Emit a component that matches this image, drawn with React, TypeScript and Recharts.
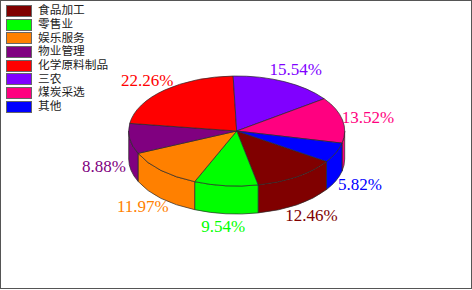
import { Pie, PieChart } from 'recharts';

const categories = ['食品加工', '零售业', '娱乐服务', '物业管理', '化学原料制品', '三农', '煤炭采选', '其他'];
const shares = [12.46, 9.54, 11.97, 8.88, 22.26, 15.54, 13.52, 5.82];
const colors = ['#800000', '#00ff00', '#ff8000', '#800080', '#ff0000', '#8000ff', '#ff0080', '#0000ff'];

const data = categories.map((name, i) => ({ name, value: shares[i], fill: colors[i] }));

const RX = 108;
const RY = 55;
const DEPTH = 28;
const START = -33.7;
const EDGE = '#2a2a2a';

const rad = (a: number) => (a * Math.PI) / 180;
const px = (cx: number, a: number) => cx + RX * Math.cos(rad(a));
const py = (cy: number, a: number) => cy - RY * Math.sin(rad(a));

// top face: the circular sector squashed into an ellipse
function TopSlice(props: any) {
  const { cx, cy, startAngle, endAngle, fill } = props;
  const large = Math.abs(startAngle - endAngle) > 180 ? 1 : 0;
  const d = `M${cx} ${cy} L${px(cx, startAngle)} ${py(cy, startAngle)} A${RX} ${RY} 0 ${large} 1 ${px(cx, endAngle)} ${py(cy, endAngle)} Z`;
  return <path d={d} fill={fill} stroke={EDGE} strokeWidth={0.7} />;
}

// side wall: only the part of the slice on the front half of the rim
function WallSlice(props: any) {
  const { cx, cy, startAngle, endAngle, fill } = props;
  const hi = Math.max(startAngle, endAngle);
  const lo = Math.min(startAngle, endAngle);
  const parts: string[] = [];
  [0, 360, 720].forEach((k) => {
    const a = Math.min(hi + k, 0);
    const b = Math.max(lo + k, -180);
    if (a <= b) return;
    parts.push(
      `M${px(cx, a)} ${py(cy, a)} A${RX} ${RY} 0 0 1 ${px(cx, b)} ${py(cy, b)} ` +
        `L${px(cx, b)} ${py(cy, b) + DEPTH} A${RX} ${RY} 0 0 0 ${px(cx, a)} ${py(cy, a) + DEPTH} Z`,
    );
  });
  return <path d={parts.join(' ')} fill={fill} stroke={EDGE} strokeWidth={0.7} />;
}

function SliceLabel(props: any) {
  const { cx, cy, midAngle, value, fill } = props;
  const s = Math.sin(rad(midAngle));
  const x = cx + 134 * Math.cos(rad(midAngle));
  const y = cy - (s > 0 ? 68 : 70) * s + (s < 0 ? 26 : 0);
  return (
    <text x={x} y={y} fill={fill} textAnchor="middle" dominantBaseline="central" fontFamily="'Liberation Serif', serif" fontSize={17}>
      {value.toFixed(2)}%
    </text>
  );
}

function LegendBox() {
  return (
    <div style={{ position: 'absolute', left: 6, top: 4 }}>
      {categories.map((name, i) => (
        <div key={name} style={{ display: 'flex', alignItems: 'center', height: 13.7 }}>
          <div style={{ width: 23.5, height: 10, background: colors[i], border: '1px solid #666', flex: 'none' }} />
          <div style={{ marginLeft: 6.5, height: 13, fontSize: 11.7, lineHeight: '13px', color: '#222', fontFamily: "'Liberation Serif', 'Noto Sans CJK SC', serif", whiteSpace: 'nowrap' }}>
            {name}
          </div>
        </div>
      ))}
    </div>
  );
}

export default function App() {
  return (
    <div style={{ position: 'relative', width: 472, height: 290, background: '#fff' }}>
      <style>{'body{margin:0}'}</style>
      <PieChart width={472} height={290} margin={{ top: 0, right: 0, bottom: 0, left: 0 }}>
        <Pie
          data={data}
          dataKey="value"
          nameKey="name"
          cx={236.7}
          cy={131}
          outerRadius={RX}
          startAngle={START}
          endAngle={START - 360}
          stroke="none"
          legendType="none"
          shape={WallSlice}
          isAnimationActive={false}
        />
        <Pie
          data={data}
          dataKey="value"
          nameKey="name"
          cx={236.7}
          cy={131}
          outerRadius={RX}
          startAngle={START}
          endAngle={START - 360}
          shape={TopSlice}
          label={SliceLabel}
          labelLine={false}
          isAnimationActive={false}
        />
      </PieChart>
      <LegendBox />
      <div
        style={{
          position: 'absolute',
          left: 0,
          top: 0,
          width: 472,
          height: 289,
          boxSizing: 'border-box',
          borderStyle: 'solid',
          borderColor: '#555',
          borderWidth: '1px 1.5px 1.5px 1.5px',
          pointerEvents: 'none',
        }}
      />
    </div>
  );
}
